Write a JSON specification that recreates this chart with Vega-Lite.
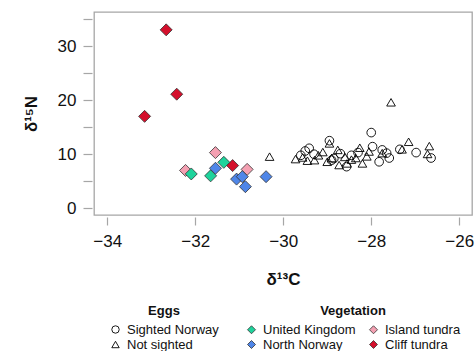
{
  "$schema": "https://vega.github.io/schema/vega-lite/v6.json",
  "width": 378,
  "height": 203,
  "autosize": {"type": "none"},
  "padding": {"left": 94, "top": 12, "right": 4, "bottom": 136},
  "background": "white",
  "config": {
    "font": "Liberation Sans",
    "view": {"stroke": "#a6a6a6", "strokeWidth": 1.3},
    "axis": {"grid": false, "domain": false, "tickColor": "#a6a6a6", "tickWidth": 1.2, "labelColor": "#111", "titleColor": "#111"}
  },
  "datasets": {
    "eggs": [
      {"d13C": -30.31, "d15N": 9.55, "Eggs": "Not sighted"},
      {"d13C": -29.72, "d15N": 9.1, "Eggs": "Not sighted"},
      {"d13C": -29.56, "d15N": 9.4, "Eggs": "Not sighted"},
      {"d13C": -29.45, "d15N": 8.8, "Eggs": "Not sighted"},
      {"d13C": -29.29, "d15N": 8.9, "Eggs": "Not sighted"},
      {"d13C": -29.2, "d15N": 9.8, "Eggs": "Not sighted"},
      {"d13C": -29.1, "d15N": 10.4, "Eggs": "Not sighted"},
      {"d13C": -28.95, "d15N": 12.0, "Eggs": "Not sighted"},
      {"d13C": -28.9, "d15N": 9.3, "Eggs": "Not sighted"},
      {"d13C": -28.76, "d15N": 10.8, "Eggs": "Not sighted"},
      {"d13C": -28.73, "d15N": 8.0, "Eggs": "Not sighted"},
      {"d13C": -28.6, "d15N": 9.5, "Eggs": "Not sighted"},
      {"d13C": -28.45, "d15N": 9.0, "Eggs": "Not sighted"},
      {"d13C": -28.35, "d15N": 9.3, "Eggs": "Not sighted"},
      {"d13C": -28.26, "d15N": 11.2, "Eggs": "Not sighted"},
      {"d13C": -28.2, "d15N": 8.3, "Eggs": "Not sighted"},
      {"d13C": -28.1, "d15N": 9.6, "Eggs": "Not sighted"},
      {"d13C": -28.05, "d15N": 10.5, "Eggs": "Not sighted"},
      {"d13C": -27.75, "d15N": 10.2, "Eggs": "Not sighted"},
      {"d13C": -27.55, "d15N": 19.6, "Eggs": "Not sighted"},
      {"d13C": -27.3, "d15N": 10.9, "Eggs": "Not sighted"},
      {"d13C": -27.15, "d15N": 12.3, "Eggs": "Not sighted"},
      {"d13C": -26.68, "d15N": 11.5, "Eggs": "Not sighted"},
      {"d13C": -26.72, "d15N": 10.05, "Eggs": "Not sighted"},
      {"d13C": -29.0, "d15N": 8.6, "Eggs": "Not sighted"},
      {"d13C": -28.55, "d15N": 8.3, "Eggs": "Not sighted"},
      {"d13C": -29.5, "d15N": 10.6, "Eggs": "Sighted Norway"},
      {"d13C": -29.41, "d15N": 11.1, "Eggs": "Sighted Norway"},
      {"d13C": -29.3, "d15N": 10.0, "Eggs": "Sighted Norway"},
      {"d13C": -28.95, "d15N": 12.5, "Eggs": "Sighted Norway"},
      {"d13C": -28.85, "d15N": 9.2, "Eggs": "Sighted Norway"},
      {"d13C": -28.7, "d15N": 10.1, "Eggs": "Sighted Norway"},
      {"d13C": -28.56, "d15N": 7.7, "Eggs": "Sighted Norway"},
      {"d13C": -28.45, "d15N": 9.8, "Eggs": "Sighted Norway"},
      {"d13C": -28.3, "d15N": 10.3, "Eggs": "Sighted Norway"},
      {"d13C": -28.0, "d15N": 14.0, "Eggs": "Sighted Norway"},
      {"d13C": -27.97, "d15N": 11.4, "Eggs": "Sighted Norway"},
      {"d13C": -27.82, "d15N": 8.6, "Eggs": "Sighted Norway"},
      {"d13C": -27.75, "d15N": 10.8, "Eggs": "Sighted Norway"},
      {"d13C": -27.65, "d15N": 10.2, "Eggs": "Sighted Norway"},
      {"d13C": -27.59, "d15N": 9.3, "Eggs": "Sighted Norway"},
      {"d13C": -27.35, "d15N": 10.9, "Eggs": "Sighted Norway"},
      {"d13C": -26.98, "d15N": 10.3, "Eggs": "Sighted Norway"},
      {"d13C": -26.64, "d15N": 9.3, "Eggs": "Sighted Norway"},
      {"d13C": -28.9, "d15N": 8.9, "Eggs": "Sighted Norway"},
      {"d13C": -29.6, "d15N": 9.8, "Eggs": "Sighted Norway"}
    ],
    "veg": [
      {"d13C": -32.66, "d15N": 33.0, "Vegetation": "Cliff tundra"},
      {"d13C": -32.42, "d15N": 21.1, "Vegetation": "Cliff tundra"},
      {"d13C": -33.15, "d15N": 17.0, "Vegetation": "Cliff tundra"},
      {"d13C": -31.15, "d15N": 7.9, "Vegetation": "Cliff tundra"},
      {"d13C": -31.54, "d15N": 10.3, "Vegetation": "Island tundra"},
      {"d13C": -32.22, "d15N": 7.0, "Vegetation": "Island tundra"},
      {"d13C": -30.82, "d15N": 7.2, "Vegetation": "Island tundra"},
      {"d13C": -32.09, "d15N": 6.35, "Vegetation": "United Kingdom"},
      {"d13C": -31.65, "d15N": 6.0, "Vegetation": "United Kingdom"},
      {"d13C": -31.35, "d15N": 8.5, "Vegetation": "United Kingdom"},
      {"d13C": -31.54, "d15N": 7.4, "Vegetation": "North Norway"},
      {"d13C": -31.06, "d15N": 5.4, "Vegetation": "North Norway"},
      {"d13C": -30.93, "d15N": 5.85, "Vegetation": "North Norway"},
      {"d13C": -30.86, "d15N": 4.0, "Vegetation": "North Norway"},
      {"d13C": -30.39, "d15N": 5.85, "Vegetation": "North Norway"}
    ]
  },
  "encoding": {
    "x": {
      "field": "d13C", "type": "quantitative",
      "scale": {"domain": [-34.3, -25.71], "nice": false, "zero": false},
      "axis": {"values": [-34, -32, -30, -28, -26], "offset": 2, "tickSize": 8, "labelFontSize": 17, "labelPadding": 8, "title": "δ¹³C", "titleFontSize": 17, "titleFontWeight": "bold", "titlePadding": 22}
    },
    "y": {
      "field": "d15N", "type": "quantitative",
      "scale": {"domain": [-1.24, 36.3], "nice": false, "zero": false},
      "axis": {"values": [0, 5, 10, 15, 20, 25, 30, 35], "labelExpr": "datum.value % 10 === 0 ? datum.label : ''", "offset": 2, "tickSize": 9, "labelFontSize": 17, "labelPadding": 7, "title": "δ¹⁵N", "titleFontSize": 17, "titleFontWeight": "bold", "titlePadding": 17}
    }
  },
  "layer": [
    {
      "data": {"name": "eggs"},
      "mark": {"type": "point", "filled": false, "color": "black", "strokeWidth": 0.9, "opacity": 1, "size": 75},
      "encoding": {
        "shape": {
          "field": "Eggs", "type": "nominal",
          "scale": {"domain": ["Sighted Norway", "Not sighted"], "range": ["circle", "triangle-up"]},
          "legend": {"orient": "none", "legendX": 15, "legendY": 293, "title": "Eggs", "titleAnchor": "middle", "titleFontSize": 13, "titleFontWeight": "bold", "titleColor": "#111", "titlePadding": 5, "labelFontSize": 13, "labelColor": "#111", "labelOffset": 5, "symbolSize": 55, "symbolStrokeColor": "black", "symbolFillColor": "transparent", "symbolStrokeWidth": 0.9, "rowPadding": 1}
        }
      }
    },
    {
      "data": {"name": "veg"},
      "mark": {"type": "point", "shape": "diamond", "filled": true, "size": 144, "stroke": "#333", "strokeWidth": 0.8, "opacity": 1},
      "encoding": {
        "fill": {
          "field": "Vegetation", "type": "nominal",
          "scale": {"domain": ["United Kingdom", "North Norway", "Island tundra", "Cliff tundra"], "range": ["#1ed39c", "#4f86e8", "#f4a0b2", "#d4102c"]},
          "legend": {"orient": "none", "legendX": 151, "legendY": 293, "columns": 2, "columnPadding": 11, "title": "Vegetation", "titleAnchor": "middle", "titleFontSize": 13, "titleFontWeight": "bold", "titleColor": "#111", "titlePadding": 5, "labelFontSize": 13, "labelColor": "#111", "labelOffset": 5, "symbolType": "diamond", "symbolSize": 64, "symbolStrokeColor": "#333", "symbolStrokeWidth": 0.8, "rowPadding": 1}
        }
      }
    }
  ]
}
